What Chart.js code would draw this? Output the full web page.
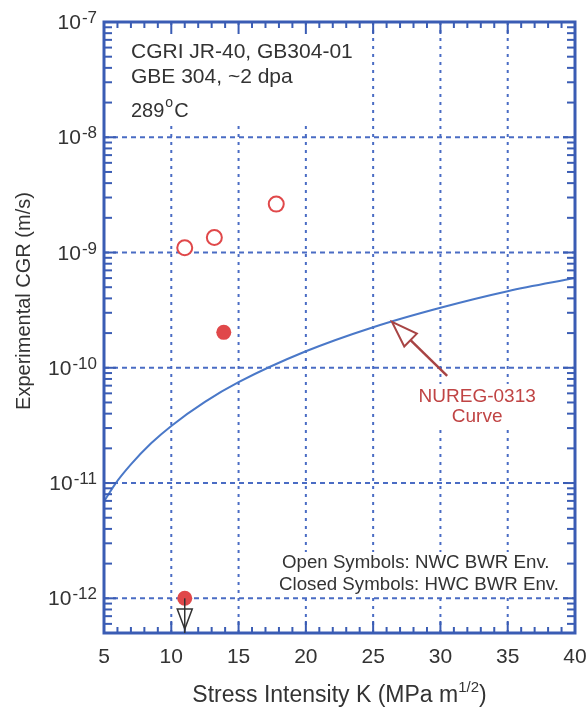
<!DOCTYPE html>
<html>
<head>
<meta charset="utf-8">
<script src="https://cdn.jsdelivr.net/npm/chart.js@4.4.1/dist/chart.umd.min.js"></script>
<style>
  body { margin: 0; background: #fff; }
  canvas { display: block; }
</style>
</head>
<body>
<canvas id="cgrChart" width="587" height="708"></canvas>
<script>
// CGR data, K in MPa m^1/2, growth rate in m/s
const openK = [11.0, 13.2, 17.8];
const openCGR = [1.1e-9, 1.35e-9, 2.63e-9];
const closedK = [13.9, 11.0];
const closedCGR = [2.03e-10, 1.0e-12];

// NUREG-0313 disposition curve
const curveK = [5, 5.8, 7, 8.5, 10, 12.5, 15, 20, 25, 30, 35, 40];
const curveCGR = [6.9e-12, 9.7e-12, 1.45e-11, 2.21e-11, 3.13e-11, 5.06e-11, 7.5e-11, 1.39e-10, 2.25e-10, 3.32e-10, 4.62e-10, 6.0e-10];

const xTicks = [5, 10, 15, 20, 25, 30, 35, 40];
const yExps = [-7, -8, -9, -10, -11, -12];

const FONT = '"Liberation Sans", Arial, sans-serif';
const TEXT = "#333";
const FRAME = "#3a5cb4";
const GRID = "#4a6cc4";
const LINE = "#4a78c8";
const RED = "#e0484a";
const DARKRED = "#a84444";

function pts(xs, ys) {
  return xs.map((x, i) => ({ x: x, y: ys[i] }));
}

function seg(ctx, x1, y1, x2, y2) {
  ctx.beginPath();
  ctx.moveTo(x1, y1);
  ctx.lineTo(x2, y2);
  ctx.stroke();
}

// open arrow head with its tip at (x, y), pointing along angle ang
function arrowHead(ctx, x, y, ang, len, half) {
  const bx = x - Math.cos(ang) * len, by = y - Math.sin(ang) * len;
  const nx = -Math.sin(ang) * half, ny = Math.cos(ang) * half;
  ctx.beginPath();
  ctx.moveTo(x, y);
  ctx.lineTo(bx + nx, by + ny);
  ctx.lineTo(bx - nx, by - ny);
  ctx.closePath();
  ctx.fillStyle = "#fff";
  ctx.fill();
  ctx.stroke();
}

const decor = {
  id: "decor",
  beforeDatasetsDraw(chart) {
    const { ctx, chartArea: a, scales: { x, y } } = chart;
    ctx.save();
    ctx.strokeStyle = GRID;
    ctx.lineWidth = 2;
    ctx.setLineDash([3, 5]);
    xTicks.slice(1, -1).forEach(k => {
      const px = x.getPixelForValue(k);
      seg(ctx, px, a.top, px, a.bottom);
    });
    ctx.setLineDash([5, 4]);
    yExps.slice(1).forEach(e => {
      const py = y.getPixelForValue(Math.pow(10, e));
      seg(ctx, a.left, py, a.right, py);
    });
    ctx.setLineDash([]);

    // white panels behind the notes
    ctx.fillStyle = "#fff";
    ctx.fillRect(a.left + 18, a.top + 5, 240, 97);
    ctx.fillRect(a.left + 172, 552, 290, 44);
    const tx = x.getPixelForValue(30.5), ty = y.getPixelForValue(8.5e-11);
    ctx.fillRect(tx - 32, ty + 8, 124, 42);
    ctx.restore();
  },
  afterDatasetsDraw(chart) {
    const { ctx, chartArea: a, scales: { x, y } } = chart;
    ctx.save();

    // tick marks on all four sides
    ctx.strokeStyle = FRAME;
    ctx.lineWidth = 2;
    for (let k = 5; k <= 40; k++) {
      const px = x.getPixelForValue(k);
      const len = k % 5 === 0 ? 12 : 6;
      seg(ctx, px, a.bottom, px, a.bottom - len);
      seg(ctx, px, a.top, px, a.top + len);
    }
    for (let e = -13; e <= -8; e++) {
      for (let m = 1; m <= 9; m++) {
        const v = m * Math.pow(10, e);
        if (v < y.min * 1.001 || v > y.max * 1.001) continue;
        const py = y.getPixelForValue(v);
        const len = m === 1 ? 12 : 8;
        seg(ctx, a.left, py, a.left + len, py);
        seg(ctx, a.right, py, a.right - len, py);
      }
    }
    ctx.lineWidth = 3;
    ctx.strokeRect(a.left, a.top, a.right - a.left, a.bottom - a.top);

    // y tick labels, 10 with a raised exponent
    ctx.fillStyle = TEXT;
    ctx.textAlign = "left";
    ctx.textBaseline = "alphabetic";
    yExps.forEach(e => {
      const py = y.getPixelForValue(Math.pow(10, e));
      ctx.font = "21px " + FONT;
      const w10 = ctx.measureText("10").width;
      ctx.font = "17px " + FONT;
      const exp = String(e);
      const wE = ctx.measureText(exp).width;
      const x0 = a.left - 7 - wE - 1 - w10;
      ctx.font = "21px " + FONT;
      ctx.fillText("10", x0, py + 7);
      ctx.font = "17px " + FONT;
      ctx.fillText(exp, x0 + w10 + 1, py + 1);
    });

    // x tick labels
    ctx.font = "21px " + FONT;
    ctx.textAlign = "center";
    xTicks.forEach(k => ctx.fillText(String(k), x.getPixelForValue(k), a.bottom + 30));

    // x title with m^1/2
    const t1 = "Stress Intensity K (MPa m", t2 = "1/2", t3 = ")";
    ctx.font = "23px " + FONT;
    const w1 = ctx.measureText(t1).width, w3 = ctx.measureText(t3).width;
    ctx.font = "15px " + FONT;
    const w2 = ctx.measureText(t2).width;
    let sx = (a.left + a.right) / 2 - (w1 + w2 + w3) / 2;
    ctx.textAlign = "left";
    ctx.font = "23px " + FONT;
    ctx.fillText(t1, sx, 702);
    ctx.font = "15px " + FONT;
    ctx.fillText(t2, sx + w1, 692);
    ctx.font = "23px " + FONT;
    ctx.fillText(t3, sx + w1 + w2, 702);

    // y title
    ctx.save();
    ctx.translate(29.5, 301);
    ctx.rotate(-Math.PI / 2);
    ctx.textAlign = "center";
    ctx.font = "20px " + FONT;
    ctx.fillText("Experimental CGR (m/s)", 0, 0);
    ctx.restore();

    // specimen notes
    ctx.textAlign = "left";
    ctx.font = "21px " + FONT;
    ctx.fillText("CGRI JR-40, GB304-01", a.left + 27, 58);
    ctx.fillText("GBE 304, ~2 dpa", a.left + 27, 83);
    ctx.font = "20px " + FONT;
    ctx.fillText("289", a.left + 27, 117);
    const w289 = ctx.measureText("289").width;
    ctx.font = "14px " + FONT;
    ctx.fillText("o", a.left + 28 + w289, 107);
    const wo = ctx.measureText("o").width;
    ctx.font = "20px " + FONT;
    ctx.fillText("C", a.left + 29 + w289 + wo, 117);

    ctx.font = "18.7px " + FONT;
    ctx.fillText("Open Symbols: NWC BWR Env.", a.left + 178, 568);
    ctx.fillText("Closed Symbols: HWC BWR Env.", a.left + 175, 590);

    // NUREG-0313 pointer
    const hx = x.getPixelForValue(26.4), hy = y.getPixelForValue(2.5e-10);
    const tx = x.getPixelForValue(30.5), ty = y.getPixelForValue(8.5e-11);
    const ang = Math.atan2(hy - ty, hx - tx);
    ctx.strokeStyle = DARKRED;
    ctx.lineWidth = 2.5;
    seg(ctx, tx, ty, hx - Math.cos(ang) * 22, hy - Math.sin(ang) * 22);
    ctx.lineWidth = 2;
    arrowHead(ctx, hx, hy, ang, 26, 9);
    ctx.fillStyle = "#c04444";
    ctx.textAlign = "center";
    ctx.font = "19px " + FONT;
    ctx.fillText("NUREG-0313", tx + 30, ty + 26);
    ctx.fillText("Curve", tx + 30, ty + 46);

    // below-detection marker on the low HWC point
    const dx = x.getPixelForValue(closedK[1]), dy = y.getPixelForValue(closedCGR[1]);
    ctx.strokeStyle = "#333";
    ctx.lineWidth = 1.5;
    arrowHead(ctx, dx, a.bottom - 4, Math.PI / 2, 20, 7.5);
    seg(ctx, dx, dy, dx, a.bottom);

    ctx.restore();
  }
};

new Chart(document.getElementById("cgrChart"), {
  type: "scatter",
  data: {
    datasets: [
      {
        type: "line",
        data: pts(curveK, curveCGR),
        borderColor: LINE,
        borderWidth: 2,
        pointRadius: 0,
        cubicInterpolationMode: "monotone",
        fill: false
      },
      {
        data: pts(openK, openCGR),
        pointRadius: 7.5,
        pointBorderWidth: 2,
        pointBorderColor: RED,
        pointBackgroundColor: "#fff"
      },
      {
        data: pts(closedK, closedCGR),
        pointRadius: 7.5,
        pointBorderWidth: 0,
        pointBackgroundColor: RED
      }
    ]
  },
  options: {
    responsive: false,
    animation: false,
    layout: { padding: { left: 104, top: 22, right: 12, bottom: 75 } },
    plugins: { legend: { display: false }, tooltip: { enabled: false } },
    scales: {
      x: { type: "linear", min: 5, max: 40, display: false },
      y: { type: "logarithmic", min: 5e-13, max: 1e-7, display: false }
    }
  },
  plugins: [decor]
});
</script>
</body>
</html>
